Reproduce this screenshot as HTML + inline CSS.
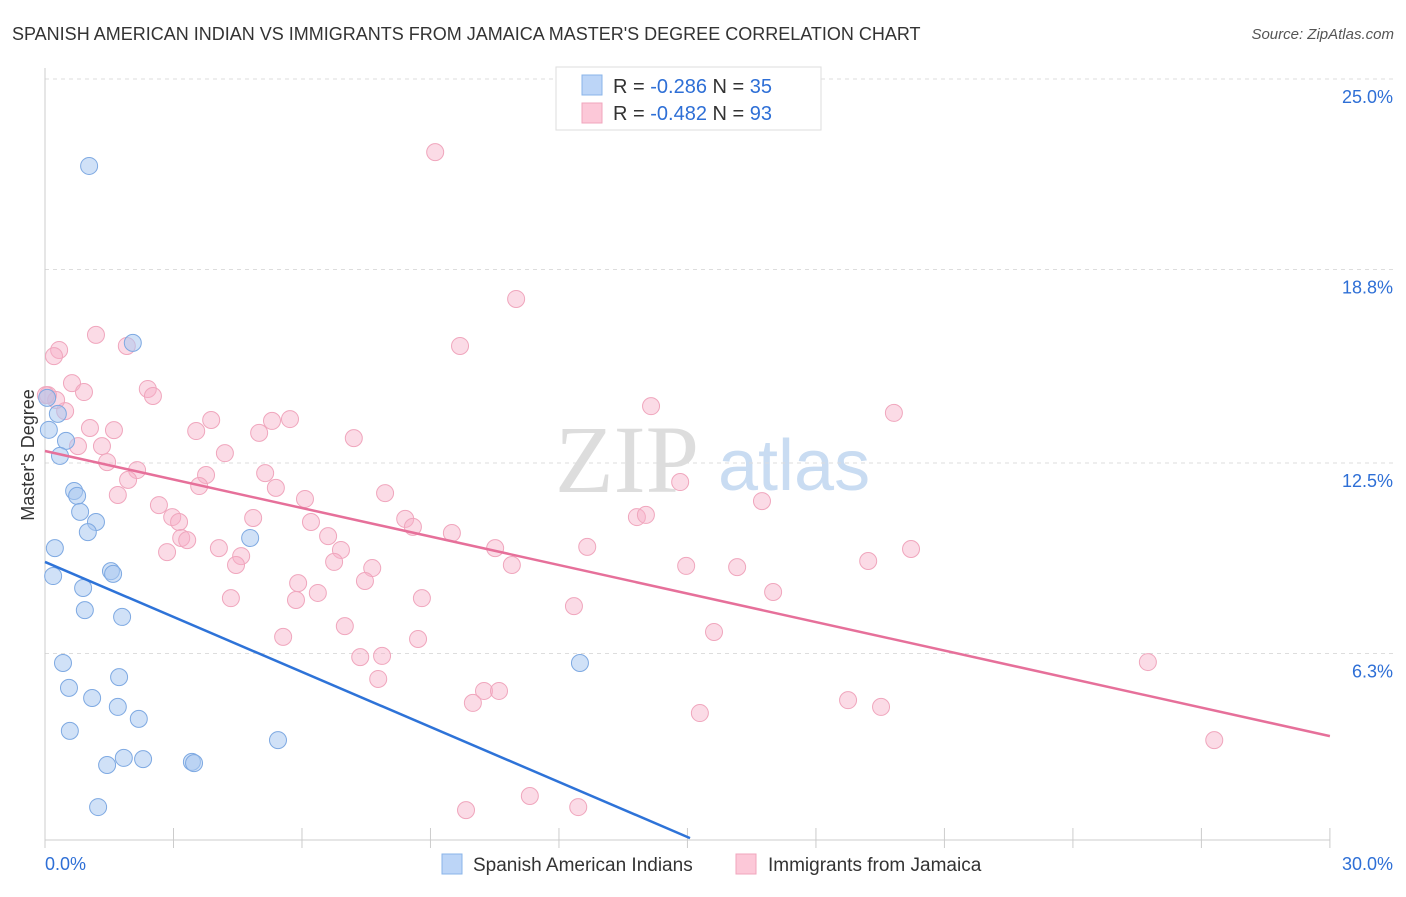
<!DOCTYPE html>
<html><head><meta charset="utf-8"><style>
body{margin:0;background:#fff;font-family:"Liberation Sans",sans-serif;}
</style></head><body>
<svg id="chart" width="1406" height="892" xmlns="http://www.w3.org/2000/svg" font-family="Liberation Sans, sans-serif">
<text x="12" y="40" font-size="18" fill="#333">SPANISH AMERICAN INDIAN VS IMMIGRANTS FROM JAMAICA MASTER'S DEGREE CORRELATION CHART</text>
<text x="1394" y="39" font-size="15" fill="#555" text-anchor="end" font-style="italic">Source: ZipAtlas.com</text>
<text x="555" y="492" font-size="96" fill="#ddd" font-family="Liberation Serif, serif">ZIP</text>
<text x="718" y="490" font-size="72" fill="#c9dcf2">atlas</text>
<text transform="translate(34,455) rotate(-90)" font-size="18" fill="#333" text-anchor="middle">Master's Degree</text>
<g id="grid"></g><g id="axes"></g><g id="marks"></g>
<g>
<rect x="556" y="67" width="265" height="63" fill="#fff" stroke="#ddd"/>
<rect x="582" y="75" width="20" height="20" fill="#bcd5f7" stroke="#8ab4ea"/>
<rect x="582" y="103" width="20" height="20" fill="#fcc8d8" stroke="#f0a6bd"/>
<text x="613" y="93" font-size="20" fill="#333">R = <tspan fill="#2e6fd6">-0.286</tspan>   N = <tspan fill="#2e6fd6">35</tspan></text>
<text x="613" y="120" font-size="20" fill="#333">R = <tspan fill="#2e6fd6">-0.482</tspan>   N = <tspan fill="#2e6fd6">93</tspan></text>
</g>
<g>
<rect x="442" y="854" width="20" height="20" fill="#bcd5f7" stroke="#8ab4ea"/>
<text x="473" y="871" font-size="19" fill="#333">Spanish American Indians</text>
<rect x="736" y="854" width="20" height="20" fill="#fcc8d8" stroke="#f0a6bd"/>
<text x="768" y="871" font-size="19" fill="#333">Immigrants from Jamaica</text>
</g>
</svg>
<script>
const yTicks=[25.0,18.8,12.5,6.3];
const yTickLabels=["25.0%","18.8%","12.5%","6.3%"];
const xTickLabels=["0.0%","30.0%"];
const blueX=[1.03,2.05,0.05,0.30,0.09,0.49,0.35,0.68,0.75,0.82,1.19,1.00,0.23,0.19,1.54,1.59,0.89,0.93,1.80,0.42,12.49,0.56,1.73,1.10,1.70,2.19,0.58,5.44,1.84,2.29,1.45,3.43,3.48,1.24,4.79];
const blueY=[22.17,16.41,14.62,14.10,13.58,13.22,12.73,11.59,11.43,10.91,10.58,10.25,9.73,8.82,8.98,8.89,8.43,7.71,7.49,5.99,5.99,5.18,5.53,4.85,4.56,4.17,3.78,3.48,2.90,2.86,2.67,2.77,2.73,1.30,10.06];
const pinkX=[9.11,11.00,9.69,1.19,0.33,0.21,1.91,0.07,0.63,0.91,2.40,2.52,0.47,3.88,5.30,5.72,3.53,5.00,1.05,1.61,7.21,14.15,19.82,0.77,1.33,4.20,1.45,2.15,3.76,5.14,3.60,5.39,1.94,1.70,7.94,6.07,2.66,2.97,3.13,4.86,6.21,8.41,8.59,9.50,6.61,3.18,3.32,4.06,2.85,4.58,6.91,10.51,12.66,13.82,14.03,14.83,16.74,20.22,19.22,4.46,6.75,7.64,10.90,14.97,16.16,5.91,7.47,4.34,5.86,6.37,8.80,12.35,17.00,5.56,7.00,8.71,15.62,7.36,7.87,7.78,10.25,10.60,9.99,18.75,19.52,15.29,25.75,27.30,11.32,9.83,12.45,0.26,0.02];
const pinkY=[22.62,17.84,16.31,16.67,16.18,15.98,16.31,14.71,15.10,14.81,14.91,14.68,14.19,13.90,13.87,13.93,13.54,13.48,13.64,13.57,13.31,14.35,14.13,13.05,13.05,12.82,12.53,12.27,12.11,12.17,11.75,11.69,11.95,11.46,11.52,11.33,11.13,10.74,10.58,10.71,10.58,10.68,10.42,10.22,10.12,10.06,9.99,9.73,9.60,9.47,9.67,9.73,9.77,10.74,10.81,11.88,11.26,9.70,9.31,9.18,9.28,9.08,9.18,9.15,9.11,8.59,8.66,8.10,8.04,8.27,8.10,7.84,8.30,6.84,7.19,6.77,7.00,6.18,6.22,5.47,5.08,5.08,4.69,4.78,4.56,4.36,6.02,3.48,1.66,1.20,1.30,14.55,14.71];
const blueTrend=[9.28,0.29,15.06]; // y at 0, y at end, end x
const pinkTrend=[12.89,3.61,30];
const NS="http://www.w3.org/2000/svg";
const sx=v=>45+v*42.83, sy=v=>847-v*30.72;
function mk(parent,tag,attrs){const e=document.createElementNS(NS,tag);for(const k in attrs)e.setAttribute(k,attrs[k]);document.getElementById(parent).appendChild(e);return e;}
yTicks.forEach((t,i)=>{
 const g=mk('grid','line',{x1:45,x2:1393,y1:sy(t),y2:sy(t),stroke:'#ddd','stroke-dasharray':'4,4'});
 
 
 const l=mk('axes','text',{x:1393,y:sy(t)+24,'font-size':18,fill:'#2e6fd6','text-anchor':'end'});l.textContent=yTickLabels[i];
 
 
});
const ax=mk('axes','line',{x1:45,x2:1330,y1:840,y2:840,stroke:'#ccc'});


const ay=mk('axes','line',{x1:45,x2:45,y1:68,y2:840,stroke:'#ccc'});


for(let i=0;i<=10;i++){const t=mk('axes','line',{x1:sx(i*3),x2:sx(i*3),y1:828,y2:848,stroke:'#ccc'});
 
 }
[[0,45,'start'],[1,1393,'end']].forEach(([i,x,a])=>{const l=mk('axes','text',{x:x,y:870,'font-size':18,fill:'#2e6fd6','text-anchor':a});l.textContent=xTickLabels[i];
 
 });
pinkX.forEach((x,i)=>{const c=mk('marks','circle',{cx:sx(x),cy:sy(pinkY[i]),r:8.5,fill:'rgba(247,176,200,0.45)',stroke:'#f0a6bd','stroke-width':1});
 
 });
blueX.forEach((x,i)=>{const c=mk('marks','circle',{cx:sx(x),cy:sy(blueY[i]),r:8.5,fill:'rgba(170,200,240,0.55)',stroke:'#7ea9e2','stroke-width':1});
 
 });
const pl=mk('marks','line',{x1:sx(0),y1:sy(pinkTrend[0]),x2:sx(pinkTrend[2]),y2:sy(pinkTrend[1]),stroke:'#e6709a','stroke-width':2.5});


const bl=mk('marks','line',{x1:sx(0),y1:sy(blueTrend[0]),x2:sx(blueTrend[2]),y2:sy(blueTrend[1]),stroke:'#2e73d8','stroke-width':2.5});


</script>
</body></html>
